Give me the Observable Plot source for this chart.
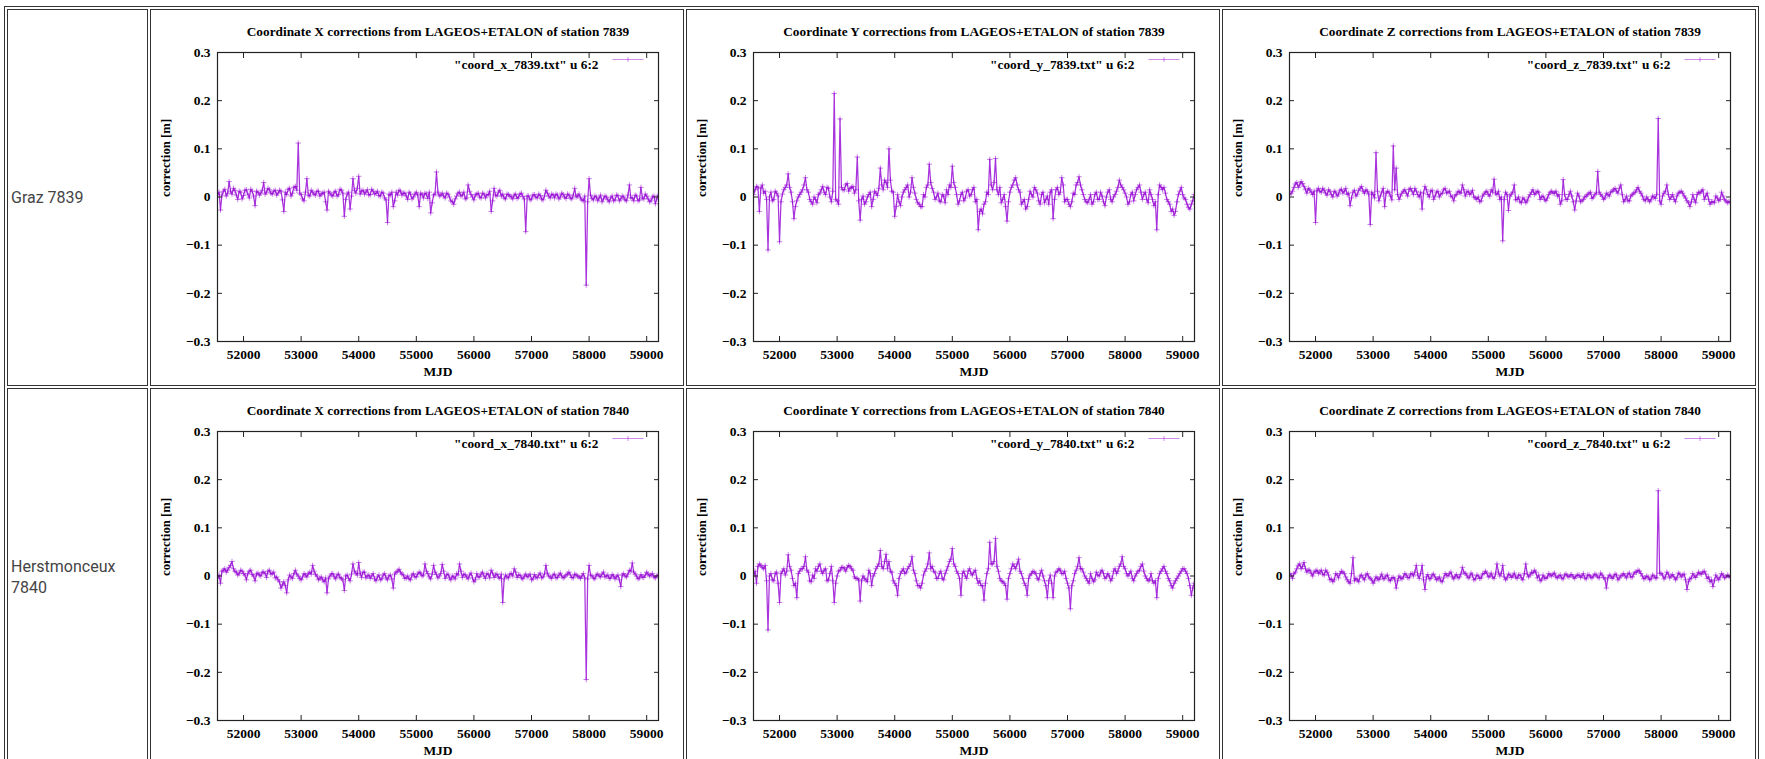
<!DOCTYPE html>
<html><head><meta charset="utf-8">
<script src="https://cdn.jsdelivr.net/npm/d3@7"></script>
<script src="https://cdn.jsdelivr.net/npm/@observablehq/plot@0.6"></script>
<style>
html,body{margin:0;padding:0;background:#fff;}
table{position:absolute;left:4px;top:6px;border:1px solid #333;border-spacing:2px;border-collapse:separate;}
td{border:1px solid #333;padding:0;}
td.lab{width:136px;padding:0 0 0 3px;font-family:Roboto,"Noto Sans",sans-serif;font-size:16px;color:#444;vertical-align:middle;line-height:21px;}
td.pc{width:532px;height:375px;vertical-align:top;}
td.pc svg{display:block;}
</style></head><body>
<table><tbody>
<tr><td class="lab" id="l0"></td><td class="pc" id="c0X"></td><td class="pc" id="c0Y"></td><td class="pc" id="c0Z"></td></tr>
<tr><td class="lab" id="l1"></td><td class="pc" id="c1X"></td><td class="pc" id="c1Y"></td><td class="pc" id="c1Z"></td></tr>
</tbody></table>
<script>
const stations = ["Graz 7839", "Herstmonceux 7840"];
const stationCodes = ["7839", "7840"];
const coords = ["X", "Y", "Z"];
const xTicks = [52000, 53000, 54000, 55000, 56000, 57000, 58000, 59000];
const yTicks = [-0.3, -0.2, -0.1, 0, 0.1, 0.2, 0.3];
const xDomain = [51548, 59205];
const yDomain = [-0.3, 0.3];

// solution epochs (MJD)
const mjd = [
51550,51600,51650,51700,51750,51800,51850,51900,51950,52000,
52050,52100,52150,52200,52250,52300,52350,52400,52450,52500,
52550,52600,52650,52700,52750,52800,52850,52900,52950,53000,
53050,53100,53150,53200,53250,53300,53350,53400,53450,53500,
53550,53600,53650,53700,53750,53800,53850,53900,53950,54000,
54050,54100,54150,54200,54250,54300,54350,54400,54450,54500,
54550,54600,54650,54700,54750,54800,54850,54900,54950,55000,
55050,55100,55150,55200,55250,55300,55350,55400,55450,55500,
55550,55600,55650,55700,55750,55800,55850,55900,55950,56000,
56050,56100,56150,56200,56250,56300,56350,56400,56450,56500,
56550,56600,56650,56700,56750,56800,56850,56900,56950,57000,
57050,57100,57150,57200,57250,57300,57350,57400,57450,57500,
57550,57600,57650,57700,57750,57800,57850,57900,57950,58000,
58050,58100,58150,58200,58250,58300,58350,58400,58450,58500,
58550,58600,58650,58700,58750,58800,58850,58900,58950,59000,
59050,59100,59150,59200];
const mjdMid = [
51575,51625,51675,51725,51775,51825,51875,51925,51975,52025,
52075,52125,52175,52225,52275,52325,52375,52425,52475,52525,
52575,52625,52675,52725,52775,52825,52875,52925,52975,53025,
53075,53125,53175,53225,53275,53325,53375,53425,53475,53525,
53575,53625,53675,53725,53775,53825,53875,53925,53975,54025,
54075,54125,54175,54225,54275,54325,54375,54425,54475,54525,
54575,54625,54675,54725,54775,54825,54875,54925,54975,55025,
55075,55125,55175,55225,55275,55325,55375,55425,55475,55525,
55575,55625,55675,55725,55775,55825,55875,55925,55975,56025,
56075,56125,56175,56225,56275,56325,56375,56425,56475,56525,
56575,56625,56675,56725,56775,56825,56875,56925,56975,57025,
57075,57125,57175,57225,57275,57325,57375,57425,57475,57525,
57575,57625,57675,57725,57775,57825,57875,57925,57975,58025,
58075,58125,58175,58225,58275,58325,58375,58425,58475,58525,
58575,58625,58675,58725,58775,58825,58875,58925,58975,59025,
59075,59125,59175];

// corrections in millimetres at mjd
const graz_x_mm = [
5,-27,12,2,32,6,14,-5,10,3,
15,-2,12,-18,10,8,30,10,15,6,
14,8,12,-30,5,18,8,22,112,5,
-8,38,2,10,4,12,6,10,-27,8,
2,12,5,14,-40,6,-25,38,8,43,
12,6,15,5,12,8,3,10,-2,-53,
4,-20,10,14,4,8,-5,6,0,10,
-20,5,8,-3,-33,4,52,2,8,-2,
6,-8,-15,2,10,4,-4,25,5,-6,
6,0,8,-2,5,-30,18,2,14,6,
-4,5,0,4,-3,6,1,-72,2,-4,
5,-2,3,-6,14,2,6,-2,4,0,
5,-3,4,-4,18,2,-2,-8,-183,38,
-3,2,-8,4,-4,0,-10,2,-6,3,
-4,0,-8,25,-2,4,-8,20,-4,2,
-10,0,-14,4];
const graz_y_mm = [
5,22,-30,25,12,-110,10,-5,8,-93,
6,20,48,10,-45,-8,5,15,40,10,
-10,0,-12,8,22,5,18,-10,215,-8,
162,15,25,12,20,8,83,-48,2,-10,
5,-20,12,3,60,15,30,100,12,-40,
5,-18,10,20,0,40,8,-12,-20,5,
20,68,18,-5,8,-10,2,15,25,64,
20,-15,5,-8,12,2,15,-10,-68,-25,
-15,10,78,15,80,5,-12,5,-50,10,
25,40,15,-15,-5,-20,12,0,15,-8,
5,-12,2,10,-45,15,5,40,-10,-5,
-20,8,25,42,15,-5,-12,5,-10,10,
-5,2,-18,10,-5,0,12,35,20,8,
-15,5,-8,15,25,-5,10,-12,5,-18,
-68,25,15,8,-10,-30,-38,-10,12,5,
-5,-22,-15,5];
const graz_z_mm = [
5,12,27,20,32,22,8,15,5,-53,
18,10,14,4,12,0,10,6,16,12,
5,-18,10,2,14,22,8,12,-57,5,
92,-8,10,-20,12,2,106,60,-5,8,
15,2,18,5,12,0,-25,22,5,12,
-5,10,0,8,18,10,2,-8,5,10,
25,2,12,8,0,-5,-10,2,10,5,
15,37,5,-5,-91,10,-28,6,25,-5,
-10,-2,-12,0,10,5,12,-5,2,-8,
5,12,8,2,-15,36,-5,5,2,-27,
8,-10,-5,2,8,-3,5,53,5,-5,
8,2,12,18,8,25,-10,2,-8,5,
10,20,8,-5,0,-10,2,-3,163,-15,
8,25,-5,5,-10,8,12,2,-8,-20,
5,-12,10,12,-5,8,-15,-10,2,-8,
10,-5,-12,-10];
const herst_x_mm = [
-5,-15,12,8,18,30,10,2,12,5,
-8,10,3,-10,6,0,8,-3,12,5,
-4,-8,-25,-12,-35,2,-5,12,0,-8,
5,-2,8,22,3,-8,-2,-12,-35,0,
5,-6,4,-5,-30,2,-10,25,6,28,
-3,8,0,-5,5,-10,2,-6,5,-8,
2,-25,8,14,4,-5,0,-8,5,-2,
8,0,25,5,-6,22,3,0,24,-5,
4,-8,-2,5,25,-3,2,-6,6,-12,
5,-2,8,-5,3,12,-3,4,-5,-55,
2,-4,5,15,-3,2,-6,4,0,-8,
3,-4,6,-2,22,0,-5,4,-3,6,
-4,2,8,-3,4,0,-5,5,-215,22,
0,-6,4,-2,8,0,-5,3,-6,2,
-22,5,-2,12,27,4,-6,3,-3,8,
0,5,-4,2];
const herst_y_mm = [
0,-15,25,18,22,-112,5,-10,8,-55,
10,2,44,12,-20,-45,10,15,40,8,
-12,-5,10,25,5,15,-8,20,-55,0,
12,18,10,22,15,-2,-5,-52,0,-8,
12,-20,5,20,53,15,45,30,8,-15,
-40,5,15,8,20,40,5,-20,-25,2,
15,48,20,8,-5,10,-8,12,30,57,
20,5,-40,10,-5,15,2,12,-15,-20,
-50,5,70,25,78,10,-10,-15,-48,5,
25,15,35,5,-15,-40,2,10,5,-8,
12,-10,-45,2,-45,8,15,5,10,-15,
-68,-10,12,38,15,0,-10,5,-12,8,
0,12,-5,5,-10,10,5,20,40,15,
0,10,-10,5,12,25,0,-10,5,-15,
-45,5,15,10,-5,-20,-15,-5,5,15,
10,-5,-40,-15];
const herst_z_mm = [
5,-5,8,22,15,28,8,12,0,10,
5,12,2,8,-8,-12,5,-4,10,5,
-8,-15,38,-5,-12,2,-8,5,-5,-15,
-2,-8,4,-5,2,-10,-3,-25,0,-6,
5,-3,4,0,22,-5,22,-28,3,-5,
4,-8,-2,-12,5,0,8,-6,3,-2,
18,5,-4,6,-8,2,-5,4,10,-2,
6,-5,25,0,22,-8,4,-3,6,-5,
2,-8,25,-2,8,12,-4,-10,2,-5,
5,0,6,-4,2,-6,4,-2,3,-5,
2,-3,5,-6,2,-4,4,-2,6,-3,
-25,2,-5,4,-8,0,5,-4,6,-2,
8,12,5,-6,0,-8,2,-4,177,5,
-6,8,-4,3,-8,6,-2,4,-28,-6,
5,-3,8,4,10,-5,-12,-22,2,-8,
5,-4,2,-3];

// corrections in millimetres at mjdMid
const graz_x_mid_mm = [
10,4,16,8,12,18,4,12,-4,14,
6,16,2,12,4,14,6,18,8,12,
4,14,-6,10,16,2,20,14,8,-4,
10,4,14,6,12,2,8,-10,12,4,
10,2,16,8,-5,10,2,14,18,6,
14,10,4,16,6,12,2,8,-6,6,
10,-8,4,12,8,2,10,-4,6,4,
8,-2,6,10,-12,6,10,4,2,8,
0,-10,-4,8,2,10,-2,12,0,4,
8,-2,6,4,12,-8,4,10,2,-2,
6,2,-4,6,0,8,-4,2,-6,4,
0,6,-4,2,8,-2,4,6,-4,8,
0,6,-2,4,0,6,-6,2,-10,4,
-6,0,-2,-10,2,-6,-2,-8,4,-8,
2,-6,4,-2,-8,2,-6,-2,6,-4,
-8,2,-4];
const graz_y_mid_mm = [
15,20,18,8,-5,0,-8,12,2,-10,
15,25,20,-10,-20,0,10,25,15,-5,
-15,-5,5,15,10,20,0,12,-5,-15,
20,15,28,18,22,15,-8,-5,-15,0,
10,-5,8,18,25,35,20,35,10,-20,
-10,0,15,25,10,20,-5,-15,-20,0,
25,30,10,0,-8,5,-12,5,20,30,
5,-8,10,-2,15,5,20,-5,-30,-35,
-10,5,25,30,15,20,-5,-20,-10,20,
35,25,10,-10,-25,-5,5,20,8,-15,
10,-5,-15,15,-5,20,10,25,-5,-15,
-10,5,30,25,5,-10,-5,-15,5,-5,
10,-10,0,15,-10,5,20,25,15,0,
-10,10,5,20,10,5,-5,15,-5,-10,
5,20,20,-5,-15,-25,-30,5,20,-2,
-15,-25,-8];
const graz_z_mid_mm = [
8,20,30,25,28,15,18,10,12,14,
12,18,8,15,5,12,2,14,8,18,
8,-2,14,6,18,12,15,6,10,-2,
12,2,18,8,10,-6,15,5,2,12,
8,16,12,18,5,10,8,15,0,14,
2,12,6,15,8,12,0,4,12,8,
15,10,5,14,-2,0,-8,6,12,2,
10,8,12,0,-5,5,2,10,-6,0,
-12,-5,-8,5,15,8,10,0,-5,-2,
10,8,12,5,-8,5,-5,12,-10,-8,
2,-8,0,5,10,0,8,10,2,-2,
5,10,15,12,18,5,-5,-8,2,8,
15,12,2,-8,-5,-6,0,5,-8,2,
12,5,0,-5,2,10,8,-2,-12,-10,
-5,5,8,15,2,-5,-10,-12,-2,-5,
2,-8,-10];
const herst_x_mid_mm = [
2,10,15,12,22,15,8,5,10,2,
5,12,0,4,2,8,5,10,4,8,
-2,-12,-18,-20,-8,-2,5,4,-5,-2,
2,5,4,10,0,-5,-8,-4,-6,4,
-2,2,-3,-8,0,-5,4,10,2,5,
8,-4,2,0,-6,-2,-8,2,-4,0,
-6,4,10,8,2,-4,-6,2,-2,4,
6,2,10,-2,4,8,-4,5,10,2,
-4,0,-6,2,10,4,-2,2,-4,-8,
-2,4,0,5,-4,6,2,-2,4,-6,
-2,4,0,8,2,-4,0,-2,4,-6,
-2,2,-4,4,6,-2,2,-4,2,0,
-2,4,2,-4,2,-2,0,-4,-6,2,
-4,2,0,4,-2,2,-4,0,-2,-8,
2,0,4,10,8,0,-4,-2,2,4,
2,-2,0];
const herst_y_mid_mm = [
10,20,22,15,-10,0,-8,5,-15,5,
15,10,20,-5,-15,5,15,20,12,-10,
2,15,20,10,12,-10,5,-10,-15,10,
18,15,18,20,12,-5,-8,-10,-5,-12,
5,0,15,25,20,30,15,10,-10,-20,
-5,10,5,15,25,12,-10,-20,-15,10,
25,15,10,-5,5,-5,5,20,35,25,
10,-5,5,0,10,5,8,-5,-10,-20,
-15,15,25,30,20,-5,-12,-20,-5,15,
20,25,10,-5,-20,-5,5,8,-5,5,
0,-20,-10,-15,0,10,12,5,-5,-25,
-20,5,20,15,8,-5,-15,-5,-8,2,
8,5,-2,0,-5,15,10,25,20,5,
5,-5,0,10,20,10,-5,-8,-10,-10,
-5,10,20,5,-10,-25,-10,0,10,15,
5,-20,-25];
const herst_z_mid_mm = [
2,5,15,25,20,15,12,5,8,12,
8,4,12,2,-6,-8,2,5,8,-2,
-12,5,-10,-8,0,-4,2,-2,-8,-10,
-5,-2,-6,0,-8,-4,-6,-10,-4,-2,
2,-4,5,8,2,5,-8,-2,-6,2,
-2,-6,-10,-4,2,5,-2,0,-4,4,
8,2,-2,2,-6,0,-4,5,6,0,
-2,4,8,5,-2,-4,2,0,-2,2,
-4,5,4,2,6,8,2,-8,-4,-2,
2,4,-2,0,-4,2,0,2,-2,0,
2,0,-4,2,-2,0,2,-4,2,-6,
-4,0,-2,2,-4,2,0,4,-2,4,
8,10,0,-4,-2,-6,0,-4,6,2,
-2,4,0,-2,-4,4,2,-8,-12,-4,
0,2,5,8,4,-2,-8,-10,-4,-2,
2,-2,0];

const series = [
  {X: [graz_x_mm, graz_x_mid_mm], Y: [graz_y_mm, graz_y_mid_mm], Z: [graz_z_mm, graz_z_mid_mm]},
  {X: [herst_x_mm, herst_x_mid_mm], Y: [herst_y_mm, herst_y_mid_mm], Z: [herst_z_mm, herst_z_mid_mm]}
];

const purple = "#9400d3";
const serif = '"Liberation Serif", "Times New Roman", serif';
const fmtY = d => d === 0 ? "0" : (d < 0 ? "\u2212" + Math.abs(d).toFixed(1) : d.toFixed(1));
const legendSymbol = {
  draw(ctx) {
    ctx.moveTo(-15.5, 0); ctx.lineTo(15.5, 0);
    ctx.moveTo(0, -2.5); ctx.lineTo(0, 2.5);
  }
};

function makePlot(code, coord, [vals, midVals]) {
  const data = mjd.map((m, i) => ({mjd: m, corr: vals[i] / 1000}))
    .concat(mjdMid.map((m, i) => ({mjd: m, corr: midVals[i] / 1000})))
    .sort((a, b) => a.mjd - b.mjd);
  const title = `Coordinate ${coord} corrections from LAGEOS+ETALON of station ${code}`;
  const legend = `"coord_${coord.toLowerCase()}_${code}.txt" u 6:2`;
  return Plot.plot({
    width: 532, height: 375,
    marginTop: 42, marginLeft: 66, marginRight: 25, marginBottom: 44,
    style: {fontFamily: serif, fontWeight: "bold", fontSize: "13px", color: "#000", background: "#fff", overflow: "visible"},
    x: {domain: xDomain},
    y: {domain: yDomain},
    marks: [
      Plot.line(data, {x: "mjd", y: "corr", stroke: purple, strokeWidth: 1.25, strokeOpacity: 0.8, clip: true}),
      Plot.dot(data, {x: "mjd", y: "corr", symbol: "plus", r: 1.9, stroke: purple, strokeWidth: 1, strokeOpacity: 0.5, clip: true}),
      Plot.frame({stroke: "#222", strokeWidth: 1.2}),
      Plot.axisX(xTicks, {anchor: "bottom", tickSize: 5, dy: -5, fill: "none", label: null, stroke: "#222"}),
      Plot.axisX(xTicks, {anchor: "top", tickSize: 5, dy: 5, fill: "none", label: null, stroke: "#222"}),
      Plot.axisY(yTicks, {anchor: "left", tickSize: 5, dx: 5, fill: "none", label: null, stroke: "#222"}),
      Plot.axisY(yTicks, {anchor: "right", tickSize: 5, dx: -5, fill: "none", label: null, stroke: "#222"}),
      Plot.axisX(xTicks, {anchor: "bottom", tickSize: 0, tickPadding: 8, tickFormat: d => String(d), label: null, fill: "#000", fontSize: 13.5}),
      Plot.axisY(yTicks, {anchor: "left", tickSize: 0, tickPadding: 7, tickFormat: fmtY, label: null, fill: "#000", fontSize: 13.5}),
      Plot.text([title], {text: d => d, frameAnchor: "top", dy: -26, fontSize: 13.3, fill: "#000"}),
      Plot.text([legend], {text: d => d, frameAnchor: "top-right", dx: -60, dy: 7, textAnchor: "end", fontSize: 13.3, fill: "#000"}),
      Plot.dot([legend], {frameAnchor: "top-right", dx: -30.5, dy: 7, symbol: legendSymbol, stroke: purple, strokeOpacity: 0.45, strokeWidth: 1, fill: "none", r: 3}),
      Plot.text(["correction [m]"], {text: d => d, frameAnchor: "left", rotate: -90, dx: -52, fontSize: 12.8, fill: "#000"}),
      Plot.text(["MJD"], {text: d => d, frameAnchor: "bottom", dy: 34, fontSize: 13.5, fill: "#000"})
    ]
  });
}

stations.forEach((name, r) => {
  document.getElementById("l" + r).textContent = name;
  coords.forEach(c => {
    document.getElementById(`c${r}${c}`).appendChild(makePlot(stationCodes[r], c, series[r][c]));
  });
});
</script>
</body></html>
